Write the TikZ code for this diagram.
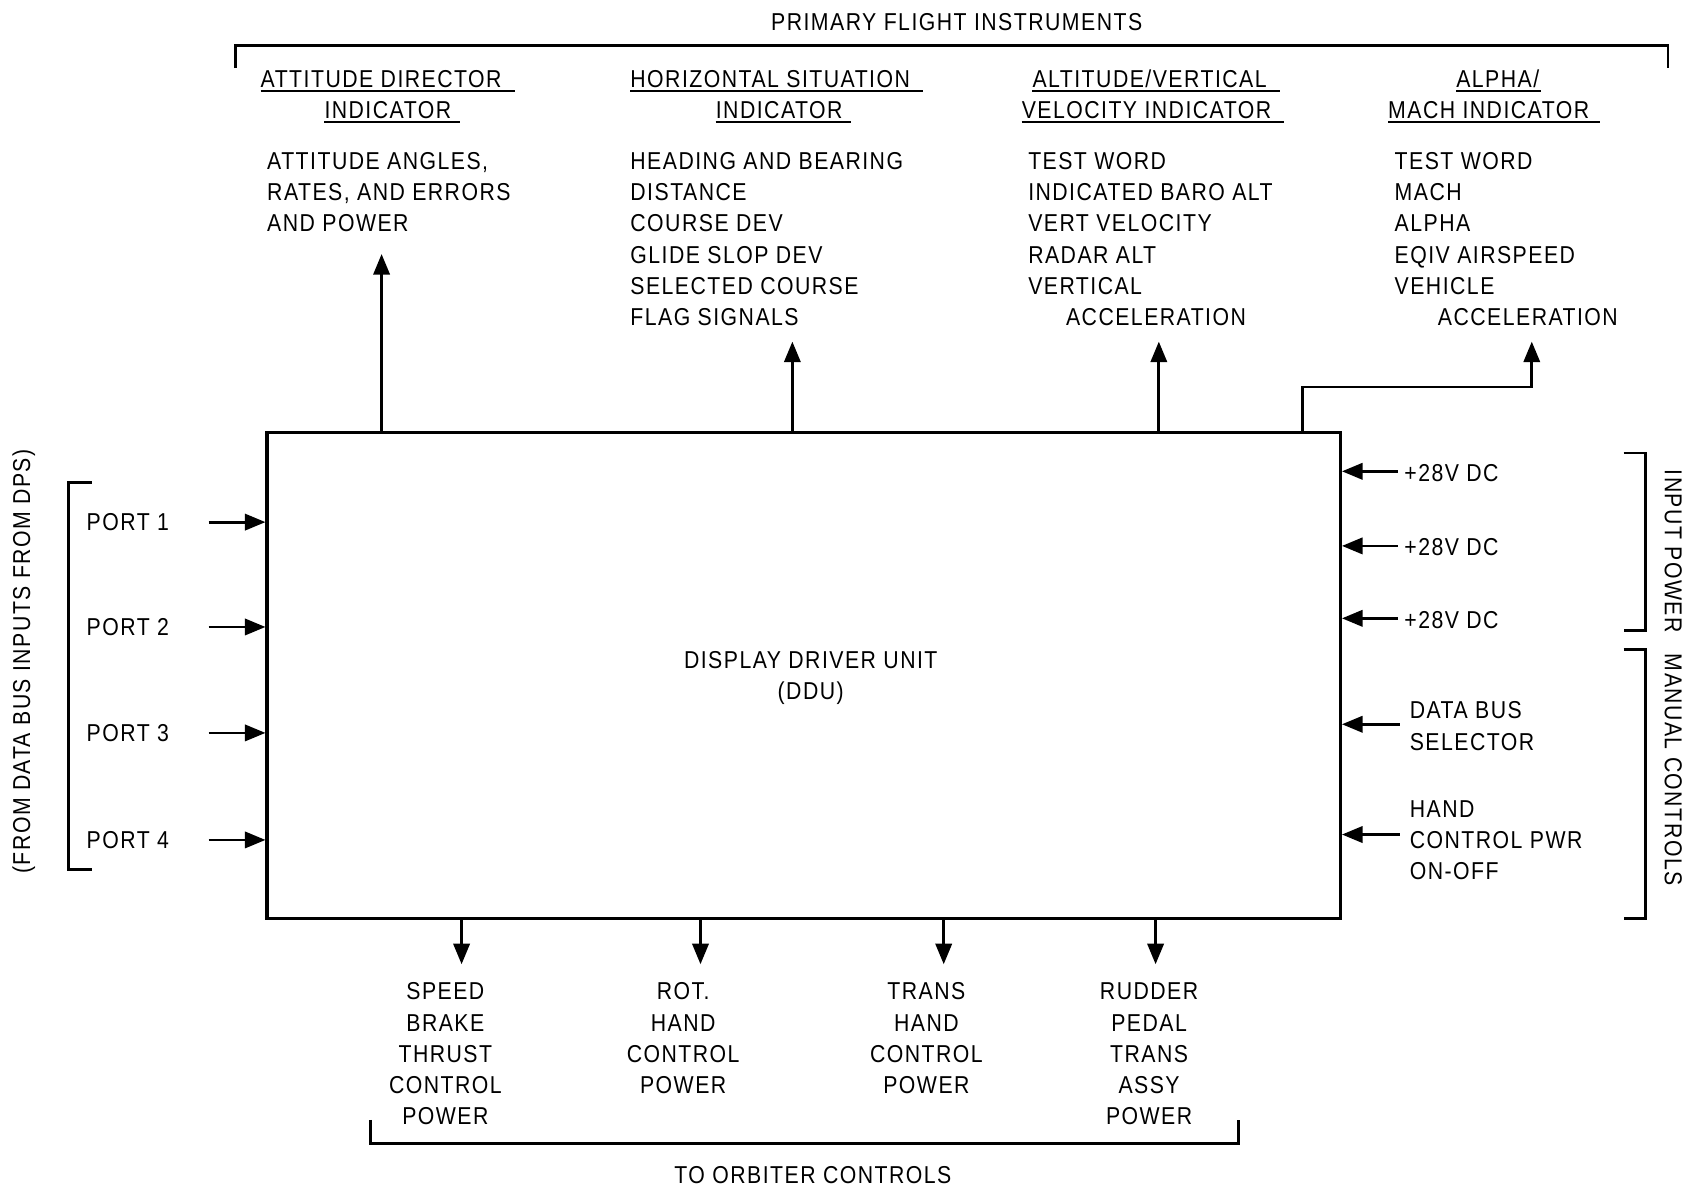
\documentclass[tikz,border=0pt]{standalone}
\usepackage{fontspec}
\setmainfont{Liberation Sans}[FakeStretch=0.87,LetterSpace=6]
\usetikzlibrary{arrows.meta}
\begin{document}
\begin{tikzpicture}[x=1pt,y=-1pt,
  lbl/.style={font=\fontsize{22.6}{28.8}\selectfont, inner sep=0pt, anchor=base west},
  clbl/.style={font=\fontsize{22.6}{28.8}\selectfont, inner sep=0pt, anchor=base},
  rlbl/.style={font=\fontsize{22.6}{28.8}\selectfont, inner sep=0pt, anchor=center},
  arr/.style={line width=2.6pt, -{Triangle[length=19pt,width=15pt]}},
  brk/.style={line width=2.6pt},
  ul/.style={line width=1.4pt},
  box/.style={draw, line width=2.8pt, inner sep=0pt, minimum width=993pt, minimum height=450pt}]
\useasboundingbox (0,0) rectangle (1568,1099);

% ---- top bracket
\node[clbl] (pfi) at (885,28) {PRIMARY FLIGHT INSTRUMENTS};
\coordinate (tb1) at (218,63); \coordinate (tb2) at (1543,63);
\draw[brk] (tb1) |- (885,42) -| (tb2);

% ---- headers
\node[lbl] (h1a) at (241,81) {ATTITUDE DIRECTOR};
\node[lbl] (h1b) at (300,110) {INDICATOR};
\node[lbl] (h2a) at (583,81) {HORIZONTAL SITUATION};
\node[lbl] (h2b) at (662,110) {INDICATOR};
\node[lbl] (h3a) at (955,81) {ALTITUDE/VERTICAL};
\node[lbl] (h3b) at (945,110) {VELOCITY INDICATOR};
\node[lbl] (h4a) at (1347,81) {ALPHA/};
\node[lbl] (h4b) at (1284,110) {MACH INDICATOR};
\foreach \n/\e in {h1a/12,h1b/8,h2a/12,h2b/8,h3a/12,h3b/12,h4a/1,h4b/10}
  \draw[ul] ([yshift=-3pt]\n.base west) -- ([xshift=\e pt,yshift=-3pt]\n.base east);

% ---- lists
\foreach \t [count=\i] in {{ATTITUDE ANGLES,},{RATES, AND ERRORS},{AND POWER}}
  \node[lbl] (adi\i) at (247,{157+28.8*(\i-1)}) {\t};
\foreach \t [count=\i] in {HEADING AND BEARING,DISTANCE,COURSE DEV,GLIDE SLOP DEV,SELECTED COURSE,FLAG SIGNALS}
  \node[lbl] (hsi\i) at (583,{157+28.8*(\i-1)}) {\t};
\foreach \t [count=\i] in {TEST WORD,INDICATED BARO ALT,VERT VELOCITY,RADAR ALT,VERTICAL}
  \node[lbl] (avv\i) at (951,{157+28.8*(\i-1)}) {\t};
\node[lbl] (avv6) at (986,301) {ACCELERATION};
\foreach \t [count=\i] in {TEST WORD,MACH,ALPHA,EQIV AIRSPEED,VEHICLE}
  \node[lbl] (ami\i) at (1290,{157+28.8*(\i-1)}) {\t};
\node[lbl] (ami6) at (1330,301) {ACCELERATION};

% ---- DDU box
\node[box] (ddu) at (743.5,625) {};
\node[rlbl, align=center] (dduT) at (750,627) {DISPLAY DRIVER UNIT\\(DDU)};

% ---- upward arrows
\coordinate (tA) at (353,235);
\coordinate (tB) at (733,316);
\coordinate (tC) at (1072,316);
\coordinate (tD) at (1417,316);
\coordinate (sD) at (1205,358);
\draw[arr] (ddu.north -| tA) -- (tA);
\draw[arr] (ddu.north -| tB) -- (tB);
\draw[arr] (ddu.north -| tC) -- (tC);
\draw[arr] (ddu.north -| sD) -- (sD) -| (tD);

% ---- ports
\foreach \y [count=\i] in {483,580,678,777}{
  \node[rlbl, anchor=west] (port\i) at (80,\y) {PORT \i};
  \coordinate (ps\i) at (193,\y);
  \draw[arr] (ps\i) -- (ps\i -| ddu.west);
}
\coordinate (lb1) at (85,446); \coordinate (lb2) at (85,804);
\draw[brk] (lb1) -- (63,446) -- (63,804) -- (lb2);
\node[rlbl, rotate=90] (dps) at (22,612) {(FROM DATA BUS INPUTS FROM DPS)};

% ---- right side inputs
\foreach \y [count=\i] in {436,505,572}{
  \node[lbl] (pw\i) at (1299,{\y+9}) {+28V DC};
  \coordinate (ws\i) at (1293,\y);
  \draw[arr] (ws\i) -- (ws\i -| ddu.east);
}
\node[lbl] (dbs1) at (1304,665) {DATA BUS};
\node[lbl] (dbs2) at (1304,694) {SELECTOR};
\coordinate (ws4) at (1295,670);
\draw[arr] (ws4) -- (ws4 -| ddu.east);
\node[lbl] (hc1) at (1304,756) {HAND};
\node[lbl] (hc2) at (1304,785) {CONTROL PWR};
\node[lbl] (hc3) at (1304,814) {ON-OFF};
\coordinate (ws5) at (1295,772);
\draw[arr] (ws5) -- (ws5 -| ddu.east);

\coordinate (rb1) at (1502,419); \coordinate (rb2) at (1502,583);
\draw[brk] (rb1) -- (1522,419) -- (1522,583) -- (rb2);
\coordinate (rb3) at (1502,601); \coordinate (rb4) at (1502,850);
\draw[brk] (rb3) -- (1522,601) -- (1522,850) -- (rb4);
\node[rlbl, rotate=-90] (ipw) at (1548,510) {INPUT POWER};
\node[rlbl, rotate=-90] (mc) at (1548,712) {MANUAL CONTROLS};

% ---- bottom outputs
\coordinate (bA) at (427,892);
\coordinate (bB) at (648,892);
\coordinate (bC) at (873,892);
\coordinate (bD) at (1069,892);
\foreach \c in {bA,bB,bC,bD}
  \draw[arr] (ddu.south -| \c) -- (\c);
\foreach \t [count=\i] in {SPEED,BRAKE,THRUST,CONTROL,POWER}
  \node[clbl] (oa\i) at (412,{925+28.8*(\i-1)}) {\t};
\foreach \t [count=\i] in {ROT.,HAND,CONTROL,POWER}
  \node[clbl] (ob\i) at (632,{925+28.8*(\i-1)}) {\t};
\foreach \t [count=\i] in {TRANS,HAND,CONTROL,POWER}
  \node[clbl] (oc\i) at (857,{925+28.8*(\i-1)}) {\t};
\foreach \t [count=\i] in {RUDDER,PEDAL,TRANS,ASSY,POWER}
  \node[clbl] (od\i) at (1063,{925+28.8*(\i-1)}) {\t};
\coordinate (bb1) at (343,1036); \coordinate (bb2) at (1146,1036);
\draw[brk] (bb1) -- (343,1058) -- (1146,1058) -- (bb2);
\node[clbl] (toc) at (752,1095) {TO ORBITER CONTROLS};
\end{tikzpicture}
\end{document}
